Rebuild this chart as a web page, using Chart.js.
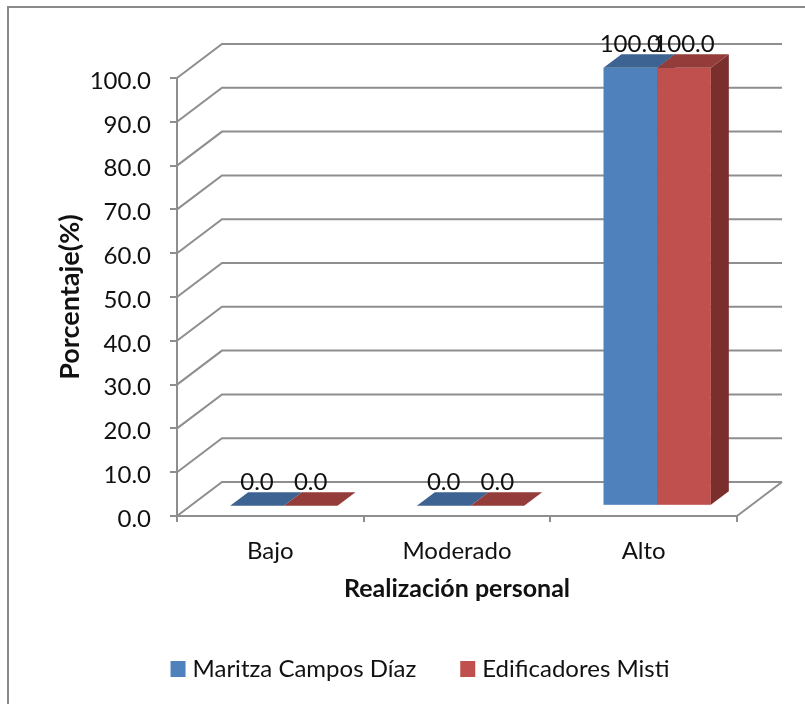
<!DOCTYPE html>
<html>
<head>
<meta charset="utf-8">
<script src="https://cdn.jsdelivr.net/npm/chart.js@4.4.1/dist/chart.umd.min.js"></script>
<style>
  html, body { margin: 0; padding: 0; background: #fff; }
  canvas { display: block; }
</style>
</head>
<body>
<canvas id="chart" width="805" height="704"></canvas>
<script>
// ---- data ----
const categories = ['Bajo', 'Moderado', 'Alto'];
const seriesNames = ['Maritza Campos Díaz', 'Edificadores Misti'];
const maritzaValues = [0.0, 0.0, 100.0];
const edificadoresValues = [0.0, 0.0, 100.0];
const yTickValues = [0, 10, 20, 30, 40, 50, 60, 70, 80, 90, 100];

// ---- styling ----
const FONT = 'Lato, "Noto Sans", sans-serif';
const GRID = '#8e8e8e';
const TEXT = '#111';
const PALETTE = [
  { front: '#4F81BD', top: '#3C6391', side: '#2F4F76' },
  { front: '#C0504D', top: '#933C3A', side: '#7A2F2D' }
];
// depth of the box drawn behind the plot area (pixels)
const DEPTH_X = 45, DEPTH_Y = 34;
// bars sit in the middle of that depth
const BAR_FRONT = 0.3, BAR_DEPTH = 0.4;

const box3d = {
  id: 'box3d',
  beforeDraw(chart) {
    const ctx = chart.ctx;
    ctx.save();
    ctx.fillStyle = '#fff';
    ctx.fillRect(0, 0, chart.width, chart.height);
    ctx.strokeStyle = '#8a8a8a';
    ctx.lineWidth = 2;
    ctx.strokeRect(8, 7, chart.width + 20, chart.height + 20);
    ctx.restore();
  },
  beforeDatasetsDraw(chart) {
    const { ctx, chartArea: a, scales: { y } } = chart;
    ctx.save();
    // side wall connectors + back wall gridlines
    ctx.strokeStyle = GRID;
    ctx.lineWidth = 2;
    y.ticks.forEach(t => {
      const py = y.getPixelForValue(t.value);
      ctx.beginPath();
      ctx.moveTo(a.left, py);
      ctx.lineTo(a.left + DEPTH_X, py - DEPTH_Y);
      ctx.lineTo(a.right + DEPTH_X, py - DEPTH_Y);
      ctx.stroke();
    });
    // right edge of the floor
    ctx.beginPath();
    ctx.moveTo(a.right, a.bottom);
    ctx.lineTo(a.right + DEPTH_X, a.bottom - DEPTH_Y);
    ctx.stroke();

    // columns
    const fx = BAR_FRONT * DEPTH_X, fy = BAR_FRONT * DEPTH_Y;
    const bx = BAR_DEPTH * DEPTH_X, by = BAR_DEPTH * DEPTH_Y;
    const labels = [];
    chart.data.datasets.forEach((ds, i) => {
      const meta = chart.getDatasetMeta(i);
      const pal = PALETTE[i];
      meta.data.forEach((el, j) => {
        const p = el.getProps(['x', 'y', 'base', 'width'], true);
        const L = p.x - p.width / 2 + fx, R = p.x + p.width / 2 + fx;
        const T = Math.min(p.y, p.base) - fy, B = Math.max(p.y, p.base) - fy;
        if (B - T > 0.5) {
          ctx.fillStyle = pal.front;
          ctx.fillRect(L, T, R - L, B - T);
          ctx.fillStyle = pal.side;
          ctx.beginPath();
          ctx.moveTo(R, T); ctx.lineTo(R + bx, T - by);
          ctx.lineTo(R + bx, B - by); ctx.lineTo(R, B);
          ctx.closePath(); ctx.fill();
        }
        ctx.fillStyle = pal.top;
        ctx.beginPath();
        ctx.moveTo(L, T); ctx.lineTo(R, T);
        ctx.lineTo(R + bx, T - by); ctx.lineTo(L + bx, T - by);
        ctx.closePath(); ctx.fill();
        labels.push({ x: (L + R) / 2, y: T - by - 2, text: ds.data[j].toFixed(1) });
      });
    });

    // value labels
    ctx.fillStyle = TEXT;
    ctx.font = '24px ' + FONT;
    ctx.textAlign = 'center';
    ctx.textBaseline = 'alphabetic';
    labels.forEach(l => ctx.fillText(l.text, l.x, l.y));
    ctx.restore();
    return false;
  }
};

const bottomLegend = {
  id: 'bottomLegend',
  afterDraw(chart) {
    const ctx = chart.ctx;
    ctx.save();
    ctx.font = '24px ' + FONT;
    ctx.textBaseline = 'middle';
    ctx.textAlign = 'left';
    const boxW = 15, boxH = 16, gap = 7, itemGap = 44;
    const items = chart.data.datasets.map(ds => ({
      text: ds.label, color: ds.backgroundColor, w: ctx.measureText(ds.label).width
    }));
    const total = items.reduce((s, it) => s + boxW + gap + it.w, 0) + itemGap * (items.length - 1);
    let x = 420 - total / 2;
    const cy = 669;
    items.forEach(it => {
      ctx.fillStyle = it.color;
      ctx.fillRect(x, cy - boxH / 2, boxW, boxH);
      ctx.fillStyle = TEXT;
      ctx.fillText(it.text, x + boxW + gap, cy);
      x += boxW + gap + it.w + itemGap;
    });
    ctx.restore();
  }
};

new Chart(document.getElementById('chart'), {
  type: 'bar',
  data: {
    labels: categories,
    datasets: [
      { label: seriesNames[0], data: maritzaValues, backgroundColor: PALETTE[0].front },
      { label: seriesNames[1], data: edificadoresValues, backgroundColor: PALETTE[1].front }
    ]
  },
  options: {
    responsive: false,
    animation: false,
    layout: { padding: { left: 8, right: 68, top: 78, bottom: 88 } },
    datasets: { bar: { categoryPercentage: 0.575, barPercentage: 1 } },
    plugins: { legend: { display: false }, tooltip: { enabled: false } },
    scales: {
      x: {
        grid: { offset: true, drawOnChartArea: false, tickLength: 6, color: GRID, lineWidth: 2 },
        border: { color: GRID, width: 2 },
        ticks: { font: { family: FONT, size: 24 }, color: TEXT, padding: 15 },
        title: {
          display: true, text: 'Realización personal', color: TEXT,
          font: { family: FONT, size: 25, weight: 'bold' },
          padding: { top: 0, bottom: 12 }
        },
        afterFit(s) { s.height = 100; }
      },
      y: {
        min: 0, max: 100,
        afterBuildTicks(s) { s.ticks = yTickValues.map(v => ({ value: v })); },
        grid: { drawOnChartArea: false, tickLength: 7, color: GRID, lineWidth: 2 },
        border: { color: GRID, width: 2 },
        ticks: {
          font: { family: FONT, size: 24 }, color: TEXT, padding: 19, labelOffset: 3,
          callback: v => Number(v).toFixed(1)
        },
        title: {
          display: true, text: 'Porcentaje(%)', color: TEXT,
          font: { family: FONT, size: 27, weight: 'bold' },
          padding: { top: 46, bottom: 0 }
        },
        afterFit(s) { s.width = 169; }
      }
    }
  },
  plugins: [box3d, bottomLegend]
});
</script>
</body>
</html>
